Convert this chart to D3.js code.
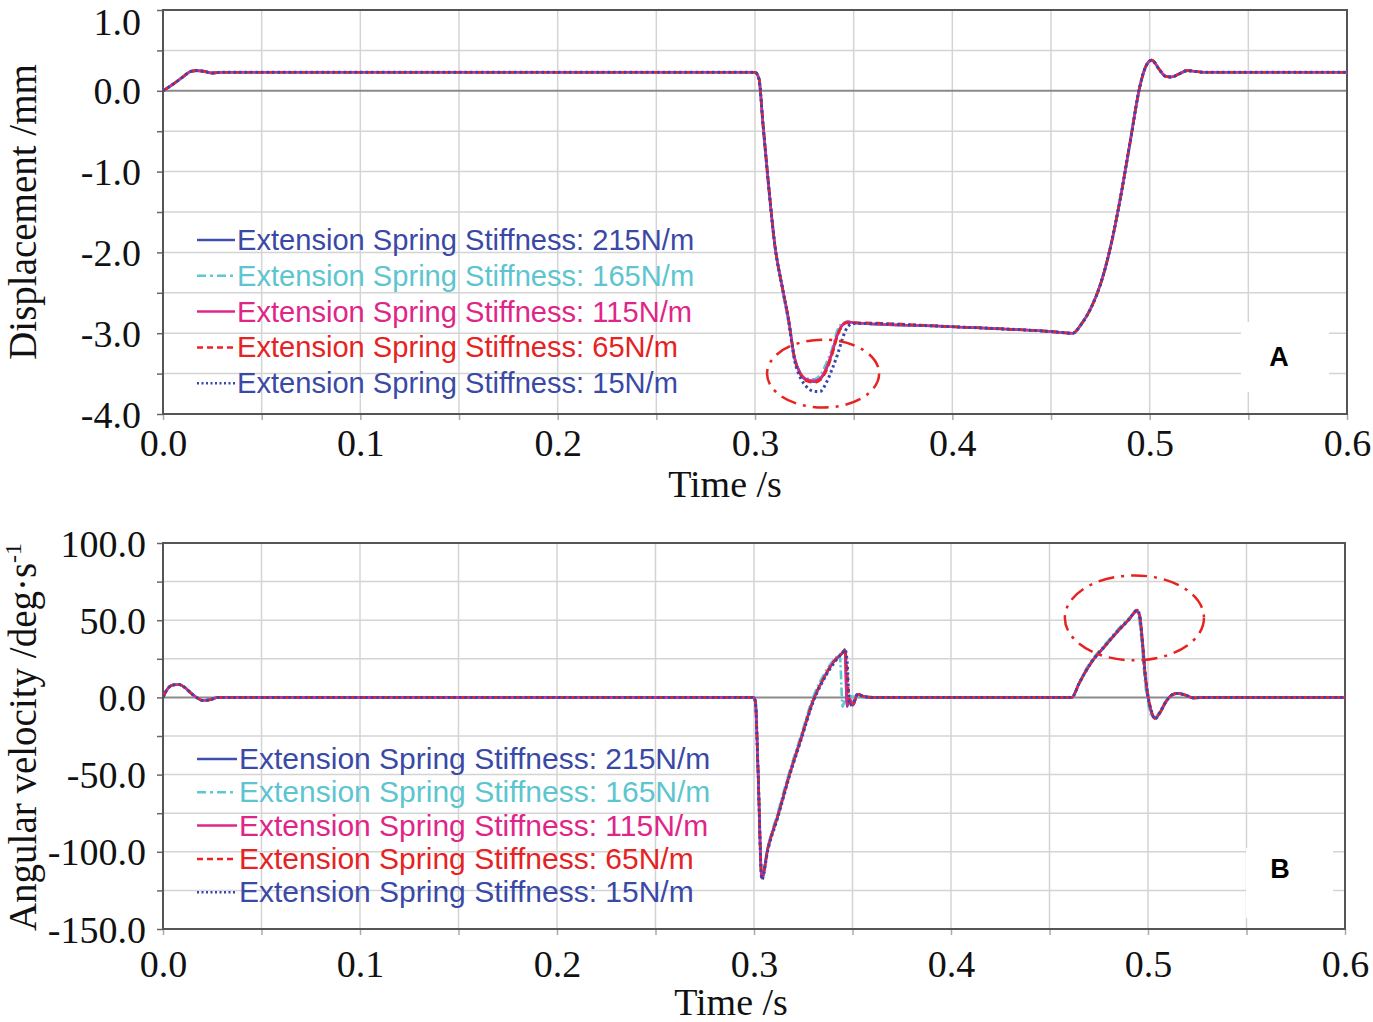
<!DOCTYPE html>
<html>
<head>
<meta charset="utf-8">
<script src="https://cdn.jsdelivr.net/npm/d3@7"></script>
<style>
  body { margin: 0; background: #fff; }
  svg { display: block; }
</style>
</head>
<body>
<div id="chart"></div>
<script>
// series labels
const seriesNames = ["215N/m", "165N/m", "115N/m", "65N/m", "15N/m"];

// panel A: displacement (mm)
const timeA = [0, 0.005, 0.01, 0.014, 0.017, 0.021, 0.025, 0.03, 0.1, 0.2, 0.3,
  0.302, 0.304, 0.307, 0.31, 0.314, 0.317, 0.32, 0.323, 0.326, 0.33,
  0.333, 0.336, 0.339, 0.342, 0.345, 0.347, 0.35, 0.4, 0.45, 0.461,
  0.465, 0.47, 0.475, 0.48, 0.485, 0.49, 0.495, 0.498, 0.501, 0.505,
  0.508, 0.511, 0.515, 0.519, 0.523, 0.528, 0.6];
const dispA215 = [0, 0.08, 0.17, 0.24, 0.25, 0.24, 0.22, 0.23, 0.23, 0.23, 0.23,
  0.15, -0.4, -1.2, -1.9, -2.45, -2.83, -3.3, -3.5, -3.58, -3.6,
  -3.57, -3.45, -3.25, -3.0, -2.88, -2.86, -2.87, -2.92, -2.98, -3.0,
  -2.9, -2.7, -2.4, -1.95, -1.35, -0.65, 0.05, 0.3, 0.38, 0.26,
  0.18, 0.17, 0.21, 0.25, 0.24, 0.23, 0.23];
const dispA165 = [0, 0.08, 0.17, 0.24, 0.25, 0.24, 0.22, 0.23, 0.23, 0.23, 0.23,
  0.15, -0.4, -1.2, -1.9, -2.45, -2.83, -3.3, -3.49, -3.56, -3.57,
  -3.52, -3.38, -3.2, -2.95, -2.87, -2.86, -2.87, -2.92, -2.98, -3.0,
  -2.9, -2.7, -2.4, -1.95, -1.35, -0.65, 0.05, 0.3, 0.38, 0.26,
  0.18, 0.17, 0.21, 0.25, 0.24, 0.23, 0.23];
const dispA115 = [0, 0.08, 0.17, 0.24, 0.25, 0.24, 0.22, 0.23, 0.23, 0.23, 0.23,
  0.15, -0.4, -1.2, -1.9, -2.45, -2.83, -3.3, -3.5, -3.57, -3.59,
  -3.56, -3.44, -3.24, -3.0, -2.88, -2.86, -2.87, -2.92, -2.98, -3.0,
  -2.9, -2.7, -2.4, -1.95, -1.35, -0.65, 0.05, 0.3, 0.38, 0.26,
  0.18, 0.17, 0.21, 0.25, 0.24, 0.23, 0.23];
const dispA65 = [0, 0.08, 0.17, 0.24, 0.25, 0.24, 0.22, 0.23, 0.23, 0.23, 0.23,
  0.15, -0.4, -1.2, -1.9, -2.45, -2.83, -3.31, -3.51, -3.59, -3.61,
  -3.58, -3.47, -3.27, -3.02, -2.89, -2.87, -2.87, -2.92, -2.98, -3.0,
  -2.9, -2.7, -2.4, -1.95, -1.35, -0.65, 0.05, 0.3, 0.38, 0.26,
  0.18, 0.17, 0.21, 0.25, 0.24, 0.23, 0.23];
const dispA15 = [0, 0.08, 0.17, 0.24, 0.25, 0.24, 0.22, 0.23, 0.23, 0.23, 0.23,
  0.15, -0.4, -1.2, -1.9, -2.46, -2.85, -3.33, -3.55, -3.66, -3.72,
  -3.72, -3.62, -3.45, -3.25, -3.02, -2.92, -2.88, -2.92, -2.98, -3.0,
  -2.9, -2.7, -2.4, -1.95, -1.35, -0.65, 0.05, 0.3, 0.38, 0.26,
  0.18, 0.17, 0.21, 0.25, 0.24, 0.23, 0.23];

// panel B: angular velocity (deg/s)
const timeB = [0, 0.002, 0.005, 0.008, 0.011, 0.014, 0.017, 0.02, 0.024, 0.028,
  0.1, 0.2, 0.3,
  0.3008, 0.302, 0.304, 0.307, 0.312, 0.318, 0.324, 0.33, 0.336, 0.341,
  0.3435, 0.345, 0.3462, 0.3472, 0.3485, 0.3502, 0.3525, 0.356, 0.36,
  0.4, 0.45, 0.4613, 0.465, 0.468, 0.472, 0.478, 0.484, 0.49, 0.4946,
  0.4958, 0.4972, 0.4985, 0.5, 0.5018, 0.5035, 0.506, 0.509, 0.512, 0.515,
  0.519, 0.523, 0.528, 0.6];
const velB215 = [0, 5, 8, 8.4, 6.5, 3, 0, -2, -1.5, 0,
  0, 0, 0,
  -4, -45, -117, -98, -77, -50, -26, -2, 14, 24,
  27, 29, 31, -6, -1, -5, 2, 0.5, 0,
  0, 0, 0, 9, 16, 24, 33, 42, 50, 56,
  52, 35, 15, 0, -10, -13.6, -10, -3, 1.5, 2.6,
  1.5, -0.3, 0, 0];
const velB165 = [0, 5, 8, 8.4, 6.5, 3, 0, -2, -1.5, 0,
  0, 0, 0,
  -4, -45, -116, -97, -75, -48, -24, 0, 16, 25,
  28, -6, -1, -3, 1, 0.5, 0.3, 0, 0,
  0, 0, 0, 9, 17, 25, 34, 43, 51, 55,
  48, 30, 10, -3, -12, -13, -9, -2.5, 1.5, 2.5,
  1.5, -0.3, 0, 0];
const velB115 = [0, 5, 8, 8.4, 6.5, 3, 0, -2, -1.5, 0,
  0, 0, 0,
  -4, -45, -117, -98, -77, -50, -26, -2, 14, 24,
  27, 29, 30.5, -5, -1, -5, 2, 0.5, 0,
  0, 0, 0, 9, 16, 24, 33, 42, 50, 56,
  52, 35, 15, 0, -10, -13.6, -10, -3, 1.5, 2.6,
  1.5, -0.3, 0, 0];
const velB65 = [0, 5, 8, 8.4, 6.5, 3, 0, -2, -1.5, 0,
  0, 0, 0,
  -4, -45, -117, -98, -77, -50, -26, -2, 14, 24,
  27, 29, 31, 18, -4, -5, 2, 0.5, 0,
  0, 0, 0, 9, 16, 24, 33, 42, 50, 56.5,
  53, 36, 16, 1, -9, -13.6, -10, -3, 1.5, 2.6,
  1.5, -0.3, 0, 0];
const velB15 = [0, 5, 8, 8.4, 6.5, 3, 0, -2, -1.5, 0,
  0, 0, 0,
  -4, -45, -118, -99, -78, -51, -27, -3, 13, 23,
  27, 29, 31, 24, -5, -4, 2, 0.5, 0,
  0, 0, 0, 9, 16, 24, 33, 42, 50, 56.5,
  53, 36, 16, 1, -9, -14, -10, -3, 1.5, 2.6,
  1.5, -0.3, 0, 0];

// tick values
const timeTicks = [0, 0.1, 0.2, 0.3, 0.4, 0.5, 0.6];
const dispTicks = [1, 0, -1, -2, -3, -4];
const velTicks = [100, 50, 0, -50, -100, -150];

// highlighted regions (centre and radii in data units)
const markA = { t: 0.3345, v: -3.5, rt: 0.0284, rv: 0.42 };
const markB = { t: 0.4931, v: 51.5, rt: 0.0353, rv: 27.5 };

const colors = ["#3f4fae", "#5cc8d2", "#e0268a", "#ea2424", "#3447b2"];
const textColors = ["#3a49a6", "#5cc5cf", "#df2688", "#e62222", "#3a49a6"];
const dashes = [null, "9,3,2,3", null, "7,4", "2.5,3"];
const legendDashes = [null, "9,4,3,4", null, "6,4", "2,2.5"];

const W = 1373, H = 1022;
const svg = d3.select("#chart").append("svg").attr("width", W).attr("height", H);

function drawPanel(opt) {
  const x = d3.scaleLinear().domain([0, 0.6]).range([opt.left, opt.right]);
  const y = d3.scaleLinear().domain(opt.yDomain).range([opt.bottom, opt.top]);
  const g = svg.append("g");

  // grid
  const xGrid = d3.range(0, 0.6001, 0.05);
  const yGrid = d3.range(opt.yDomain[0], opt.yDomain[1] + 1e-9, opt.yStep);
  g.append("g").selectAll("line").data(xGrid).enter().append("line")
    .attr("x1", d => x(d)).attr("x2", d => x(d))
    .attr("y1", opt.top).attr("y2", opt.bottom)
    .attr("stroke", "#d4d4d4").attr("stroke-width", 1.5);
  g.append("g").selectAll("line").data(yGrid).enter().append("line")
    .attr("x1", opt.left).attr("x2", opt.right)
    .attr("y1", d => y(d)).attr("y2", d => y(d))
    .attr("stroke", d => Math.abs(d) < 1e-9 ? "#8a8a8a" : "#d4d4d4")
    .attr("stroke-width", d => Math.abs(d) < 1e-9 ? 2 : 1.5);

  // white box behind panel letter
  g.append("rect")
    .attr("x", opt.box[0]).attr("y", opt.box[1])
    .attr("width", opt.box[2]).attr("height", opt.box[3])
    .attr("fill", "#fff");

  // axes
  const yAxis = d3.axisLeft(y).tickValues(yGrid).tickSize(6)
    .tickFormat(d => opt.yLabels.includes(Math.round(d * 100) / 100) ? d.toFixed(1) : "");
  const ya = g.append("g").attr("transform", `translate(${opt.left},0)`).call(yAxis);
  ya.select(".domain").remove();
  ya.selectAll("line").attr("stroke", "#666").attr("stroke-width", 1.5);
  ya.selectAll("text")
    .attr("x", opt.yLabelX - opt.left)
    .attr("dy", d => (Math.abs(d - opt.yDomain[1]) < 1e-9 ? opt.topLabelShift : 0) + 13)
    .style("font-family", "'Liberation Serif', 'Times New Roman', serif")
    .style("font-size", "38px").attr("fill", "#111");

  const xAxis = d3.axisBottom(x).tickValues(xGrid).tickSize(6)
    .tickFormat(d => timeTicks.some(t => Math.abs(t - d) < 1e-9) ? d.toFixed(1) : "");
  const xa = g.append("g").attr("transform", `translate(0,${opt.bottom})`).call(xAxis);
  xa.select(".domain").remove();
  xa.selectAll("line").attr("stroke", "#aaa").attr("stroke-width", 1.5);
  xa.selectAll("text")
    .attr("y", opt.xTickDy).attr("dy", 0)
    .style("font-family", "'Liberation Serif', 'Times New Roman', serif")
    .style("font-size", "38px").attr("fill", "#111");

  // frame
  g.append("rect")
    .attr("x", opt.left).attr("y", opt.top)
    .attr("width", opt.right - opt.left).attr("height", opt.bottom - opt.top)
    .attr("fill", "none").attr("stroke", "#555").attr("stroke-width", 2);

  // clip
  const clipId = "clip" + opt.id;
  svg.append("clipPath").attr("id", clipId).append("rect")
    .attr("x", opt.left).attr("y", opt.top)
    .attr("width", opt.right - opt.left).attr("height", opt.bottom - opt.top);

  const line = d3.line().x(d => x(d[0])).y(d => y(d[1])).curve(d3.curveMonotoneX);
  const series = opt.values.map(v => opt.time.map((t, i) => [t, v[i]]));
  g.append("g").attr("clip-path", `url(#${clipId})`)
    .selectAll("path").data(series).enter().append("path")
    .attr("d", line)
    .attr("fill", "none")
    .attr("stroke", (d, i) => colors[i])
    .attr("stroke-width", (d, i) => i === 4 ? 3 : 2.6)
    .attr("stroke-dasharray", (d, i) => dashes[i]);

  // highlight ellipse
  const m = opt.mark;
  g.append("ellipse")
    .attr("cx", x(m.t)).attr("cy", y(m.v))
    .attr("rx", x(m.rt) - x(0)).attr("ry", y(0) - y(m.rv))
    .attr("fill", "none").attr("stroke", "#e8221f")
    .attr("stroke-width", 2.5).attr("stroke-dasharray", "16,7,3,7");

  // legend
  const lg = g.append("g");
  seriesNames.forEach((name, i) => {
    const cy = opt.legend.y0 + i * opt.legend.dy;
    lg.append("line")
      .attr("x1", opt.legend.x0).attr("x2", opt.legend.x1)
      .attr("y1", cy).attr("y2", cy)
      .attr("stroke", colors[i]).attr("stroke-width", 2.5)
      .attr("stroke-dasharray", legendDashes[i]);
    lg.append("text")
      .attr("x", opt.legend.x1 + 2).attr("y", cy + 10)
      .style("font-family", "'Liberation Sans', Arial, sans-serif")
      .style("font-size", opt.legend.size + "px")
      .attr("fill", textColors[i])
      .text("Extension Spring Stiffness: " + name);
  });

  // panel letter
  g.append("text")
    .attr("x", opt.letter[0]).attr("y", opt.letter[1])
    .attr("text-anchor", "middle")
    .style("font-family", "'Liberation Sans', Arial, sans-serif")
    .style("font-size", "27px").style("font-weight", "bold")
    .text(opt.id);

  // axis titles
  g.append("text")
    .attr("x", opt.xTitle[0]).attr("y", opt.xTitle[1])
    .attr("text-anchor", "middle")
    .style("font-family", "'Liberation Serif', 'Times New Roman', serif")
    .style("font-size", "38px").attr("fill", "#111")
    .text("Time /s");

  const yt = g.append("text")
    .attr("transform", `translate(${opt.yTitle[0]},${opt.yTitle[1]}) rotate(-90)`)
    .attr("text-anchor", "middle")
    .style("font-family", "'Liberation Serif', 'Times New Roman', serif")
    .style("font-size", "39px").attr("fill", "#111");
  yt.append("tspan").text(opt.yTitleText);
  if (opt.yTitleSup) {
    yt.append("tspan").attr("dy", -15).style("font-size", "24px").text(opt.yTitleSup);
  }
}

drawPanel({
  id: "A",
  left: 163, right: 1347, top: 10, bottom: 414,
  yDomain: [-4, 1], yStep: 0.5, yLabels: dispTicks, topLabelShift: 11,
  yLabelX: 141, xTickDy: 42,
  time: timeA,
  values: [dispA215, dispA165, dispA115, dispA65, dispA15],
  mark: markA,
  box: [1241, 322, 88, 70],
  letter: [1279, 366],
  legend: { x0: 197, x1: 235, y0: 240, dy: 35.8, size: 29.1 },
  xTitle: [725, 497],
  yTitle: [36, 212],
  yTitleText: "Displacement /mm"
});

drawPanel({
  id: "B",
  left: 163, right: 1345, top: 543, bottom: 929,
  yDomain: [-150, 100], yStep: 25, yLabels: velTicks, topLabelShift: 0,
  yLabelX: 146, xTickDy: 48,
  time: timeB,
  values: [velB215, velB165, velB115, velB65, velB15],
  mark: markB,
  box: [1246, 848, 87, 70],
  letter: [1280, 878],
  legend: { x0: 197, x1: 237, y0: 759, dy: 33.3, size: 30 },
  xTitle: [731, 1015],
  yTitle: [36, 737],
  yTitleText: "Angular velocity /deg·s",
  yTitleSup: "-1"
});
</script>
</body>
</html>
